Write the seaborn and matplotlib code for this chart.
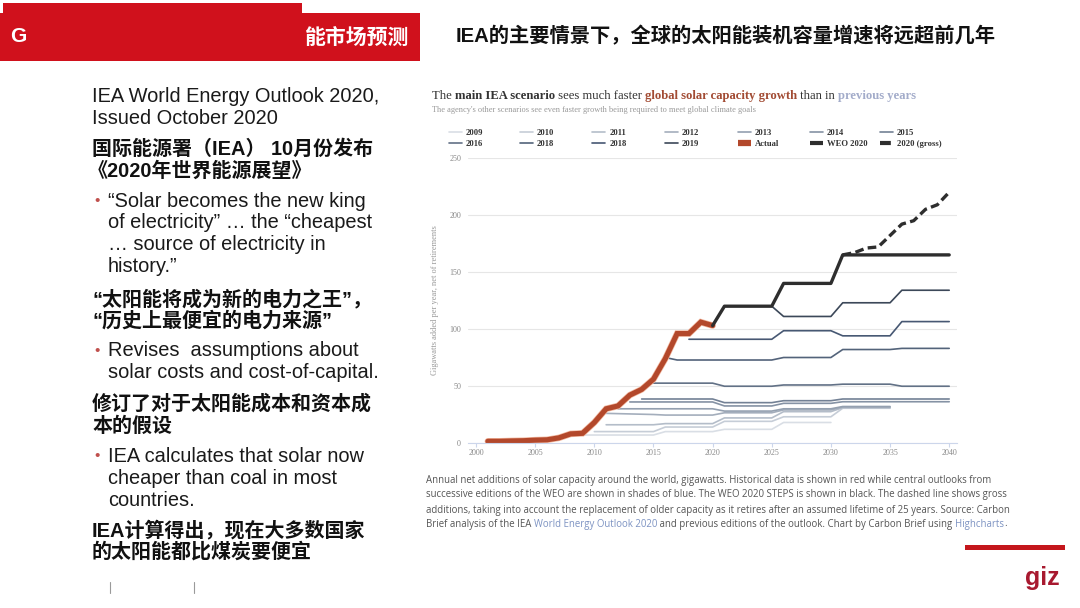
import numpy as np
import pandas as pd
import matplotlib.pyplot as plt
import matplotlib.patheffects as pe
from matplotlib.lines import Line2D
from matplotlib.patches import Rectangle
import seaborn as sns

sns.set_theme(style='white')
plt.rcParams['font.family'] = ['Liberation Sans', 'Noto Sans CJK SC', 'DejaVu Sans']

# ---- data ----
act_years = list(range(2001, 2021))
act_vals = [1.5, 1.5, 1.8, 2, 2.5, 2.8, 4.5, 8, 8.5, 18, 30, 32.5, 42, 47, 56, 74, 96, 96, 106, 103]

weo2020_years = [2020, 2021, 2025, 2026, 2030, 2031, 2040]
weo2020_vals = [103, 120, 120, 140, 140, 165, 165]

gross_years = [2031, 2032, 2033, 2034, 2035, 2036, 2037, 2038, 2039, 2040]
gross_vals = [165, 167, 171, 172, 182, 192, 195, 205, 209, 220]

weo_labels = ['2009', '2010', '2011', '2012', '2013', '2014', '2015', '2016', '2018', '2018', '2019']
weo_years = [
    [2009, 2015, 2016, 2020, 2021, 2025, 2026, 2030],
    [2010, 2015, 2016, 2020, 2021, 2025, 2026, 2030, 2031, 2035],
    [2011, 2015, 2016, 2020, 2021, 2025, 2026, 2030, 2031, 2035],
    [2011, 2015, 2016, 2020, 2021, 2025, 2026, 2030, 2031, 2035],
    [2012, 2020, 2021, 2025, 2026, 2030, 2031, 2035],
    [2013, 2020, 2021, 2025, 2026, 2030, 2031, 2040],
    [2014, 2020, 2021, 2025, 2026, 2030, 2031, 2040],
    [2015, 2020, 2021, 2025, 2026, 2030, 2031, 2035, 2036, 2040],
    [2016, 2017, 2025, 2026, 2030, 2031, 2035, 2036, 2040],
    [2018, 2025, 2026, 2030, 2031, 2035, 2036, 2040],
    [2021, 2025, 2026, 2030, 2031, 2035, 2036, 2040],
]
weo_vals = [
    [7, 7, 10, 10, 12, 12, 18, 18],
    [10, 10, 14, 14, 19, 19, 23, 23, 30.5, 30.5],
    [16, 16, 17, 17, 22, 22, 27.5, 27.5, 31, 31],
    [26, 25, 24.5, 24.5, 26.5, 26.5, 29, 29, 31.5, 31.5],
    [30, 30, 28, 28, 30, 30, 32, 32],
    [36, 36, 32.5, 32.5, 34.8, 34.8, 36.2, 36.2],
    [38.6, 38.6, 35.4, 35.4, 37.1, 37.1, 38.6, 38.6],
    [52.5, 52.5, 49.8, 49.8, 50.9, 50.9, 51.6, 51.6, 49.8, 49.8],
    [75, 72.8, 72.8, 75, 75, 82, 82, 83, 83],
    [91, 91, 98.5, 98.5, 94, 94, 106.5, 106.5],
    [120, 120, 111, 111, 123, 123, 134, 134],
]
weo_colors = ['#d9dee5', '#c6cdd7', '#b4bdc9', '#a4aebc', '#94a0b0', '#8592a4',
              '#738195', '#627186', '#53637a', '#475873', '#3c4859']

RED = '#d0111c'
ACT = '#b3482b'
DARK = '#2e2e2e'

W, H = 1080, 608
fig = plt.figure(figsize=(10.8, 6.08), dpi=100)
fig.patch.set_facecolor('white')


def fx(px):
    return px / W


def fy(py):
    return 1 - py / H


r = fig.canvas.get_renderer()


def adv(s, style):
    # width of s including trailing spaces
    t1 = fig.text(0, 0, s + 'x', **style)
    t2 = fig.text(0, 0, 'x', **style)
    w = t1.get_window_extent(r).width - t2.get_window_extent(r).width
    t1.remove()
    t2.remove()
    return w


def rich(x, y, parts, **common):
    for s, kw in parts:
        st = dict(common)
        st.update(kw)
        fig.text(fx(x), fy(y), s, ha='left', va='center', **st)
        x += adv(s, st)


# ---- header ----
fig.add_artist(Rectangle((fx(3), fy(13)), 299 / W, 10 / H, transform=fig.transFigure, color=RED, lw=0))
fig.add_artist(Rectangle((0, fy(61)), 420 / W, 48 / H, transform=fig.transFigure, color=RED, lw=0))
fig.text(fx(10), fy(37), 'G', color='white', fontsize=15, fontweight='bold', va='center')
fig.text(fx(304), fy(37), '能市场预测', color='white', fontsize=15, fontweight='bold', va='center',
         family=['Noto Sans CJK SC'])
fig.text(fx(456), fy(36), 'IEA的主要情景下，全球的太阳能装机容量增速将远超前几年', fontsize=14.6,
         fontweight='bold', va='center', family=['Liberation Sans', 'Noto Sans CJK SC'], color='#111111')

# ---- left text block ----
EN = dict(fontsize=14.4, color='#1a1a1a', family=['Liberation Sans'], va='center')
CN = dict(fontsize=14.4, color='#111111', fontweight='bold',
          family=['Liberation Sans', 'Noto Sans CJK SC', 'DejaVu Sans'], va='center')
fig.text(fx(92), fy(96), 'IEA World Energy Outlook 2020,', **EN)
fig.text(fx(92), fy(118), 'Issued October 2020', **EN)
fig.text(fx(92), fy(149), '国际能源署（IEA） 10月份发布', **CN)
fig.text(fx(88), fy(171), '《2020年世界能源展望》', **CN)
fig.text(fx(108), fy(201), '“Solar becomes the new king', **EN)
fig.text(fx(108), fy(223), 'of electricity” … the “cheapest', **EN)
fig.text(fx(108), fy(245), '… source of electricity in', **EN)
fig.text(fx(108), fy(267), 'history.”', **EN)
fig.text(fx(92), fy(299), '“太阳能将成为新的电力之王”，', **CN)
fig.text(fx(92), fy(321), '“历史上最便宜的电力来源”', **CN)
fig.text(fx(108), fy(351), 'Revises  assumptions about', **EN)
fig.text(fx(108), fy(373), 'solar costs and cost-of-capital.', **EN)
fig.text(fx(92), fy(404), '修订了对于太阳能成本和资本成', **CN)
fig.text(fx(92), fy(426), '本的假设', **CN)
fig.text(fx(108), fy(456), 'IEA calculates that solar now', **EN)
fig.text(fx(108), fy(478), 'cheaper than coal in most', **EN)
fig.text(fx(108), fy(500), 'countries.', **EN)
fig.text(fx(92), fy(530), 'IEA计算得出，现在大多数国家', **CN)
fig.text(fx(92), fy(552), '的太阳能都比煤炭要便宜', **CN)
for yb in [201, 351, 456]:
    fig.text(fx(94), fy(yb), '•', fontsize=11, color='#c0504d', va='center')
for xb in [110, 194]:
    fig.add_artist(Line2D([fx(xb), fx(xb)], [fy(582), fy(593)], color='#9a9a9a', lw=0.8,
                          transform=fig.transFigure))

# ---- giz logo ----
fig.add_artist(Rectangle((fx(965), fy(550)), 100 / W, 5 / H, transform=fig.transFigure, color='#c4161c', lw=0))
fig.text(fx(1042), fy(578), 'giz', fontsize=18, fontweight='bold', color='#a8192f', ha='center', va='center',
         family=['Liberation Sans'])

# ---- chart titles ----
SER = ['Liberation Serif', 'DejaVu Serif']
rich(432, 96, [('The ', {}),
               ('main IEA scenario', {'fontweight': 'bold'}),
               (' sees much faster ', {}),
               ('global solar capacity growth', {'fontweight': 'bold', 'color': '#a24b33'}),
               (' than in ', {}),
               ('previous years', {'fontweight': 'bold', 'color': '#a3acca'})],
     fontsize=9.1, family=SER, color='#333333')
fig.text(fx(432), fy(110), "The agency's other scenarios see even faster growth being required to meet global climate goals",
         fontsize=6.0, family=SER, color='#999999', va='center')

# ---- chart ----
ax = fig.add_axes([fx(468), fy(443), (957 - 468) / W, (443 - 158) / H])
ax.set_facecolor('white')

for yrs, vals, c in zip(weo_years, weo_vals, weo_colors):
    sns.lineplot(x=yrs, y=vals, ax=ax, color=c, linewidth=1.2, estimator=None, sort=False, legend=False)
sns.lineplot(x=act_years, y=act_vals, ax=ax, color=ACT, linewidth=3.7, estimator=None, legend=False,
             solid_joinstyle='miter',
             path_effects=[pe.Stroke(linewidth=4.7, foreground='#f2b8a0'), pe.Normal()])
sns.lineplot(x=weo2020_years, y=weo2020_vals, ax=ax, color=DARK, linewidth=2.4, estimator=None, legend=False)
sns.lineplot(x=gross_years, y=gross_vals, ax=ax, color=DARK, linewidth=2.4, estimator=None, legend=False,
             linestyle=(0, (2.6, 1.3)))

ax.set_xlim(1999.32, 2040.66)
ax.set_ylim(0, 250)
ax.set_xticks(range(2000, 2041, 5))
ax.set_yticks(range(0, 251, 50))
ax.grid(axis='y', color='#e6e6e6', lw=0.8)
ax.grid(axis='x', visible=False)
for s in ['left', 'top', 'right']:
    ax.spines[s].set_visible(False)
ax.spines['bottom'].set_color('#ccd6eb')
ax.spines['bottom'].set_linewidth(0.8)
ax.tick_params(axis='x', length=3, width=0.8, color='#ccd6eb', labelsize=5.8, labelcolor='#888888', pad=1,
               bottom=True)
ax.tick_params(axis='y', length=0, labelsize=5.8, labelcolor='#888888', pad=5)
for lbl in ax.get_xticklabels() + ax.get_yticklabels():
    lbl.set_fontfamily(SER)
ax.set_xlabel('')
ax.set_ylabel('Gigawatts added per year, net of retirements', fontsize=6.0, color='#999999', family=SER)
ax.yaxis.set_label_coords((439 - 468) / (957 - 468), 0.5)

# ---- legend (7 columns x 2 rows, Highcharts style) ----
leg_items = [(l, Line2D([], [], color=c, lw=1.2)) for l, c in zip(weo_labels, weo_colors)]
leg_items += [('Actual', Line2D([], [], color=ACT, lw=4.5, solid_capstyle='butt')),
              ('WEO 2020', Line2D([], [], color=DARK, lw=3, solid_capstyle='butt')),
              ('2020 (gross)', Line2D([], [], color=DARK, lw=3, linestyle=(0, (2.6, 1.3))))]
label_x = [466, 537, 609.5, 682, 755, 827, 897]
fs_px = 6.2 * 100 / 72
for i, lx in enumerate(label_x):
    pair = [leg_items[i], leg_items[i + 7]]
    fig.legend([p[1] for p in pair], [p[0] for p in pair], loc='upper left',
               bbox_to_anchor=(fx(lx - 2.0 * fs_px), fy(129)), frameon=False,
               borderpad=0, borderaxespad=0, handlelength=1.5, handletextpad=0.5, labelspacing=0.3,
               prop={'family': SER, 'weight': 'bold', 'size': 6.2}, labelcolor='#333333')

# ---- caption ----
CAP = dict(fontsize=6.9, color='#555555', family=['Open Sans', 'DejaVu Sans'])
fig.text(fx(426), fy(480), 'Annual net additions of solar capacity around the world, gigawatts. Historical data is shown in red while central outlooks from',
         va='center', **CAP)
fig.text(fx(426), fy(495), 'successive editions of the WEO are shown in shades of blue. The WEO 2020 STEPS is shown in black. The dashed line shows gross',
         va='center', **CAP)
fig.text(fx(426), fy(510), 'additions, taking into account the replacement of older capacity as it retires after an assumed lifetime of 25 years. Source: Carbon',
         va='center', **CAP)
rich(426, 524, [('Brief analysis of the IEA ', {}),
                ('World Energy Outlook 2020', {'color': '#7d93c2'}),
                (' and previous editions of the outlook. Chart by Carbon Brief using ', {}),
                ('Highcharts', {'color': '#7d93c2'}),
                ('.', {})], **CAP)

fig.savefig('out.png', dpi=100, facecolor='white')
